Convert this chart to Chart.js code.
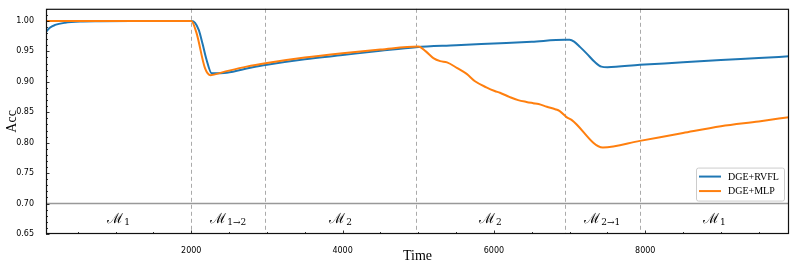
<!DOCTYPE html>
<html>
<head>
<meta charset="utf-8">
<script src="https://cdn.jsdelivr.net/npm/chart.js@4"></script>
<style>
  html, body { margin: 0; padding: 0; background: #fff; }
  canvas { display: block; }
</style>
</head>
<body>
<canvas id="acc" width="797" height="271"></canvas>
<script>
// accuracy over time for the two models
const timeRvfl = [80, 130, 200, 330, 530, 800, 1200, 1600, 2000, 2050, 2100, 2150, 2200, 2270,
  2470, 2780, 3000, 3500, 4000, 4500, 4970, 5500, 6000, 6500, 6940, 7000, 7060, 7140, 7230, 7330,
  7420, 7500, 7930, 8500, 9000, 9500, 9900];
const accRvfl = [0.982, 0.989, 0.9935, 0.997, 0.999, 0.9995, 0.9998, 0.9999, 1.0, 0.997, 0.985, 0.962, 0.937, 0.914,
  0.915, 0.923, 0.928, 0.937, 0.944, 0.951, 0.957, 0.960, 0.963, 0.966, 0.969, 0.969, 0.966, 0.957, 0.946, 0.933,
  0.925, 0.924, 0.928, 0.932, 0.936, 0.939, 0.942];
const timeMlp = [80, 2000, 2070, 2180, 2255, 2420, 2730, 3000, 3500, 4000, 4500, 5000, 5100, 5200, 5290,
  5380, 5510, 5640, 5750, 5900, 6010, 6080, 6210, 6320, 6430, 6520, 6590, 6700, 6810, 6870,
  6960, 7030, 7440, 7930, 8500, 9000, 9500, 9900];
const accMlp = [1.0, 1.0, 0.980, 0.923, 0.911, 0.916, 0.925, 0.931, 0.940, 0.947, 0.953, 0.958, 0.950, 0.939, 0.934,
  0.932, 0.923, 0.913, 0.901, 0.891, 0.885, 0.882, 0.875, 0.870, 0.867, 0.865, 0.8635, 0.859, 0.855, 0.852,
  0.842, 0.837, 0.792, 0.803, 0.816, 0.827, 0.835, 0.842];

const seriesNames = ['DGE+RVFL', 'DGE+MLP'];
const seriesColors = ['#1f77b4', '#ff7f0e'];
const xTicks = [2000, 4000, 6000, 8000];
const yTicks = [0.65, 0.70, 0.75, 0.80, 0.85, 0.90, 0.95, 1.00];
const boundaries = [2000, 2980, 4965, 6940, 7925];          // dashed regime changes
const regionMain = ['ℳ', 'ℳ', 'ℳ', 'ℳ', 'ℳ', 'ℳ'];
const regionSub = ['1', '1→2', '2', '2', '2→1', '1'];
const xMin = 80, xMax = 9900, yMin = 0.65, yMax = 1.02, splitY = 0.70;

const pts = (xs, ys) => xs.map((x, i) => ({ x, y: ys[i] }));

const decor = {
  id: 'decor',
  beforeDatasetsDraw(chart) {
    const { ctx, chartArea: a, scales: { x, y } } = chart;
    ctx.save();
    // dashed region boundaries
    ctx.strokeStyle = '#aaa'; ctx.lineWidth = 1; ctx.setLineDash([4, 3]);
    boundaries.forEach(b => {
      const px = Math.round(x.getPixelForValue(b)) + 0.5;
      ctx.beginPath(); ctx.moveTo(px, a.top); ctx.lineTo(px, a.bottom); ctx.stroke();
    });
    ctx.setLineDash([]);
    // horizontal split at 0.70
    const py = y.getPixelForValue(splitY);
    ctx.strokeStyle = '#999'; ctx.lineWidth = 1.5;
    ctx.beginPath(); ctx.moveTo(a.left, py); ctx.lineTo(a.right, py); ctx.stroke();
    // region labels
    const edges = [xMin, ...boundaries, xMax], ly = y.getPixelForValue(0.6745);
    ctx.fillStyle = '#000'; ctx.textBaseline = 'alphabetic';
    regionMain.forEach((m, i) => {
      const cx = (x.getPixelForValue(edges[i]) + x.getPixelForValue(edges[i + 1])) / 2;
      ctx.font = '14px "DejaVu Serif"'; const w1 = ctx.measureText(m).width;
      ctx.font = '9px "DejaVu Serif"'; const w2 = ctx.measureText(regionSub[i]).width;
      const x0 = cx - (w1 + w2 + 1) / 2;
      ctx.font = '14px "DejaVu Serif"'; ctx.fillText(m, x0, ly + 4);
      ctx.font = '9px "DejaVu Serif"'; ctx.fillText(regionSub[i], x0 + w1 + 1, ly + 6);
    });
    ctx.restore();
  },
  afterDatasetsDraw(chart) {
    const { ctx, chartArea: a, scales: { x, y } } = chart;
    ctx.save();
    // inward ticks
    ctx.strokeStyle = '#000'; ctx.lineWidth = 0.8;
    for (let k = 65; k <= 102; k++) {
      const py = Math.round(y.getPixelForValue(k / 100)) + 0.5, len = k % 5 === 0 ? 3.5 : 2;
      ctx.beginPath(); ctx.moveTo(a.left, py); ctx.lineTo(a.left + len, py); ctx.stroke();
    }
    for (let v = 500; v < xMax; v += 500) {
      const px = Math.round(x.getPixelForValue(v)) + 0.5, len = v % 2000 === 0 ? 3.5 : 2;
      ctx.beginPath(); ctx.moveTo(px, a.bottom); ctx.lineTo(px, a.bottom - len); ctx.stroke();
    }
    // frame
    ctx.strokeStyle = '#111'; ctx.lineWidth = 1.2;
    ctx.strokeRect(a.left + 0.5, a.top + 0.5, a.right - a.left - 1, a.bottom - a.top - 1);
    // legend, lower right above the split line
    const bw = 88, bh = 33, bx = a.right - bw - 5, by = y.getPixelForValue(splitY) - bh - 3;
    ctx.fillStyle = 'rgba(255,255,255,0.85)'; ctx.strokeStyle = '#ccc'; ctx.lineWidth = 1;
    ctx.beginPath(); ctx.roundRect(bx + 0.5, by + 0.5, bw, bh, 2); ctx.fill(); ctx.stroke();
    ctx.font = '10px "Liberation Serif"'; ctx.textBaseline = 'middle';
    seriesNames.forEach((n, i) => {
      const ry = by + 9 + i * 14.5;
      ctx.strokeStyle = seriesColors[i]; ctx.lineWidth = 2;
      ctx.beginPath(); ctx.moveTo(bx + 3, ry); ctx.lineTo(bx + 25, ry); ctx.stroke();
      ctx.fillStyle = '#000'; ctx.fillText(n, bx + 32, ry + 0.5);
    });
    ctx.restore();
  }
};

new Chart(document.getElementById('acc'), {
  type: 'line',
  data: {
    datasets: [
      { label: seriesNames[0], data: pts(timeRvfl, accRvfl), borderColor: seriesColors[0], order: 1 },
      { label: seriesNames[1], data: pts(timeMlp, accMlp), borderColor: seriesColors[1], order: 0 }
    ]
  },
  options: {
    responsive: false, animation: false, devicePixelRatio: 1,
    layout: { padding: { top: 7, right: 8, left: 0, bottom: 0 } },
    elements: {
      point: { radius: 0 },
      line: { borderWidth: 2, cubicInterpolationMode: 'monotone', fill: false }
    },
    plugins: { legend: { display: false }, tooltip: { enabled: false } },
    scales: {
      x: {
        type: 'linear', min: xMin, max: xMax,
        grid: { display: false }, border: { display: false },
        afterBuildTicks: s => { s.ticks = xTicks.map(value => ({ value })); },
        ticks: { maxRotation: 0, padding: 4, color: '#000', autoSkip: false,
          font: { family: 'DejaVu Sans', size: 8 }, callback: v => String(v) },
        title: { display: true, text: 'Time', color: '#000', font: { family: 'Liberation Serif', size: 14 },
          padding: { top: 0, bottom: 6 } },
        afterFit: s => { s.height = 37; }
      },
      y: {
        min: yMin, max: yMax,
        grid: { display: false }, border: { display: false },
        afterBuildTicks: s => { s.ticks = yTicks.map(value => ({ value })); },
        ticks: { padding: 4, color: '#000', autoSkip: false,
          font: { family: 'DejaVu Sans', size: 8 }, callback: v => v.toFixed(2) },
        title: { display: true, text: 'Acc', color: '#000', font: { family: 'Liberation Serif', size: 14 },
          padding: { top: 4, bottom: 0 } },
        afterFit: s => { s.width = 46; }
      }
    }
  },
  plugins: [decor]
});
</script>
</body>
</html>
